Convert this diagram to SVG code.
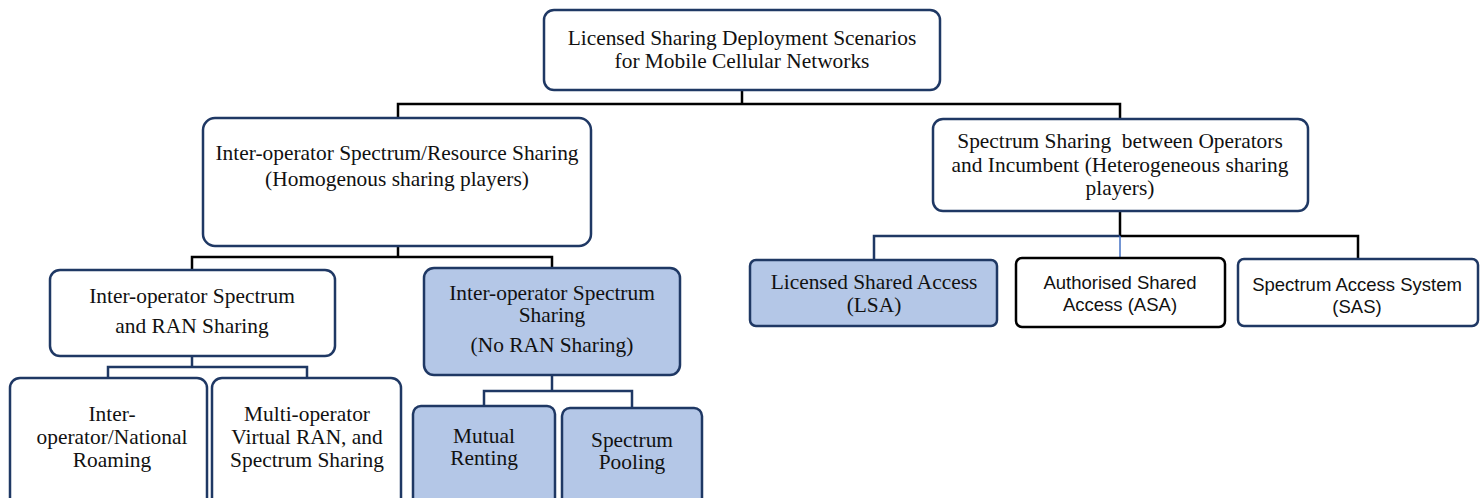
<svg xmlns="http://www.w3.org/2000/svg" width="1481" height="498" viewBox="0 0 1481 498">
  <style>
    .box { fill: #ffffff; stroke: #1f3864; stroke-width: 2.5; }
    .box.hl { fill: #b4c7e7; }
    .box.dark { stroke: #000000; }
    .lbl { font-family: "Liberation Serif", "Times New Roman", serif; font-size: 21.4px; fill: #111; text-anchor: middle; }
    .lbl.sans { font-family: "Liberation Sans", Arial, sans-serif; font-size: 18.5px; }
    .wire { fill: none; stroke: #000000; stroke-width: 2.5; }
    .wire.navy { stroke: #1f3864; }
    .wire.blue { stroke: #4472c4; stroke-width: 1.5; }
  </style>

  <g id="connectors">
    <!-- root to level 1 -->
    <polyline class="wire" points="742,91 742,104"/>
    <polyline class="wire" points="398,118 398,104 1120,104 1120,119"/>
    <!-- homogeneous branch -->
    <polyline class="wire" points="398,246 398,257"/>
    <polyline class="wire" points="192,270 192,257 552,257 552,268"/>
    <!-- operator/incumbent branch -->
    <polyline class="wire" points="1120,211 1120,236"/>
    <polyline class="wire navy" points="874,260 874,236 1120,236"/>
    <polyline class="wire" points="1120,236 1358,236 1358,259"/>
    <line class="wire blue" x1="1120" y1="236" x2="1120" y2="258"/>
    <!-- RAN sharing children -->
    <polyline class="wire navy" points="192,356 192,367"/>
    <polyline class="wire navy" points="108,378 108,367 307,367 307,378"/>
    <!-- no-RAN sharing children -->
    <polyline class="wire navy" points="552,375 552,391"/>
    <polyline class="wire navy" points="484,406 484,391 632,391 632,408"/>
  </g>

  <g id="root">
    <rect class="box" x="544" y="10" width="396" height="80" rx="10"/>
    <text class="lbl" x="742" y="45">Licensed Sharing Deployment Scenarios</text>
    <text class="lbl" x="742" y="68">for Mobile Cellular Networks</text>
  </g>

  <g id="homogeneous">
    <rect class="box" x="203" y="118" width="388" height="128" rx="12"/>
    <text class="lbl" x="397" y="160">Inter-operator Spectrum/Resource Sharing</text>
    <text class="lbl" x="397" y="186">(Homogenous sharing players)</text>
  </g>

  <g id="heterogeneous">
    <rect class="box" x="933" y="119" width="375" height="92" rx="10"/>
    <text class="lbl" x="1120" y="148" xml:space="preserve">Spectrum Sharing  between Operators</text>
    <text class="lbl" x="1120" y="172">and Incumbent (Heterogeneous sharing</text>
    <text class="lbl" x="1120" y="195">players)</text>
  </g>

  <g id="lsa">
    <rect class="box hl" x="750" y="260" width="247" height="66" rx="6"/>
    <text class="lbl" x="874" y="289">Licensed Shared Access</text>
    <text class="lbl" x="874" y="312">(LSA)</text>
  </g>

  <g id="asa">
    <rect class="box dark" x="1016" y="258" width="209" height="69" rx="6"/>
    <text class="lbl sans" x="1120" y="289">Authorised Shared</text>
    <text class="lbl sans" x="1120" y="311">Access (ASA)</text>
  </g>

  <g id="sas">
    <rect class="box" x="1238" y="259" width="240" height="67" rx="6"/>
    <text class="lbl sans" x="1357" y="291">Spectrum Access System</text>
    <text class="lbl sans" x="1357" y="313">(SAS)</text>
  </g>

  <g id="ran-sharing">
    <rect class="box" x="50" y="270" width="285" height="86" rx="10"/>
    <text class="lbl" x="192" y="303">Inter-operator Spectrum</text>
    <text class="lbl" x="192" y="333">and RAN Sharing</text>
  </g>

  <g id="no-ran-sharing">
    <rect class="box hl" x="424" y="268" width="256" height="107" rx="10"/>
    <text class="lbl" x="552" y="300">Inter-operator Spectrum</text>
    <text class="lbl" x="552" y="322">Sharing</text>
    <text class="lbl" x="552" y="352">(No RAN Sharing)</text>
  </g>

  <g id="roaming">
    <rect class="box" x="10" y="378" width="197" height="130" rx="10"/>
    <text class="lbl" x="112" y="421">Inter-</text>
    <text class="lbl" x="112" y="444">operator/National</text>
    <text class="lbl" x="112" y="467">Roaming</text>
  </g>

  <g id="virtual-ran">
    <rect class="box" x="212" y="378" width="189" height="130" rx="10"/>
    <text class="lbl" x="307" y="421">Multi-operator</text>
    <text class="lbl" x="307" y="444">Virtual RAN, and</text>
    <text class="lbl" x="307" y="467">Spectrum Sharing</text>
  </g>

  <g id="mutual-renting">
    <rect class="box hl" x="413" y="406" width="142" height="100" rx="8"/>
    <text class="lbl" x="484" y="443">Mutual</text>
    <text class="lbl" x="484" y="465">Renting</text>
  </g>

  <g id="spectrum-pooling">
    <rect class="box hl" x="562" y="408" width="140" height="100" rx="8"/>
    <text class="lbl" x="632" y="447">Spectrum</text>
    <text class="lbl" x="632" y="469">Pooling</text>
  </g>
</svg>
